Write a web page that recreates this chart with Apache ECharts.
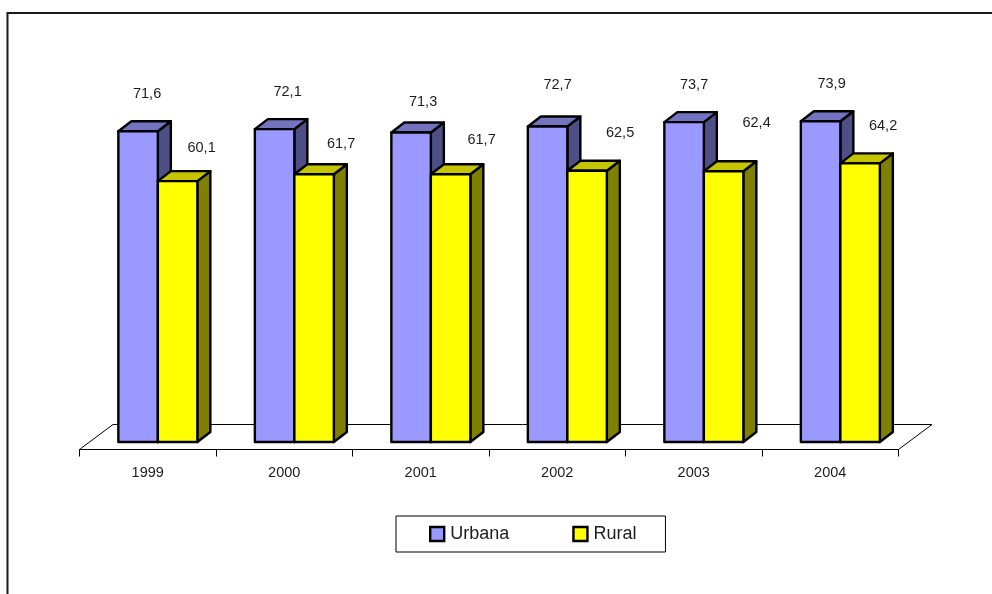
<!DOCTYPE html>
<html><head><meta charset="utf-8">
<style>html,body{margin:0;padding:0;background:#fff}#c{width:992px;height:594px}</style>
<script src="https://cdn.jsdelivr.net/npm/echarts@6/dist/echarts.min.js"></script>
</head><body><div id="c"></div>
<script>
var years = ['1999','2000','2001','2002','2003','2004'];
var urbana = [71.6,72.1,71.3,72.7,73.7,73.9];
var rural = [60.1,61.7,61.7,62.5,62.4,64.2];
// hand-placed label offsets (dx, dy from the bar's front-top centre)
var urbanaLabelDx = [9,13,12,10,10,11];
var urbanaLabelDy = [-37,-37,-31,-41,-37,-37];
var ruralLabelDx = [24,27,31,33,33,23];
var ruralLabelDy = [-33,-30,-34,-38,-48,-37];

var FONT = '"Liberation Sans",Arial,sans-serif';
var TEXT = '#1c1c1c';
var DX = 13, DY = -10, BAR = 39.5;
var chart = echarts.init(document.getElementById('c'), null, {renderer:'canvas'});

function bar(faces, shiftBars, ldx, ldy){
  return function(params, api){
    var i = api.value(0), v = api.value(1);
    var top = api.coord([i, v]), base = api.coord([i, 0]);
    var x0 = top[0] - 29.4 + shiftBars*BAR, x1 = x0 + BAR, y0 = top[1], y1 = base[1];
    var st = {stroke:'#000', lineWidth:2.4, lineJoin:'round'};
    function poly(pts, fill){
      return {type:'polygon', shape:{points:pts}, style:Object.assign({fill:fill}, st)};
    }
    return {type:'group', children:[
      poly([[x1,y0],[x1+DX,y0+DY],[x1+DX,y1+DY],[x1,y1]], faces[2]),
      poly([[x0,y0],[x0+DX,y0+DY],[x1+DX,y0+DY],[x1,y0]], faces[1]),
      poly([[x0,y0],[x1,y0],[x1,y1],[x0,y1]], faces[0]),
      {type:'text', style:{text:String(v).replace('.',','), x:(x0+x1)/2+ldx[params.dataIndex], y:y0+ldy[params.dataIndex],
        fill:TEXT, font:'14.5px '+FONT, align:'center', verticalAlign:'middle'}}
    ]};
  };
}
function floor(params, api){
  var b0 = api.coord([0,0]), b1 = api.coord([years.length-1,0]), w = api.size([1,0])[0];
  var l = b0[0]-w/2, r = b1[0]+w/2, yFront = b0[1]+7.5, yBack = yFront-25, d = 33.5;
  return {type:'polyline', shape:{points:[[l,yFront],[l+d,yBack],[r+d,yBack],[r,yFront]]},
    style:{fill:null, stroke:'#000', lineWidth:1}};
}
chart.setOption({
  animation:false,
  backgroundColor:'#fff',
  grid:{left:79.5, width:819, top:94.8, height:347.2},
  xAxis:{type:'category', data:years, offset:7.5,
    axisLine:{onZero:false,lineStyle:{color:'#000',width:1}},
    axisTick:{show:true,length:7,lineStyle:{color:'#000',width:1}},
    axisLabel:{color:TEXT,fontFamily:FONT,fontSize:14.5,margin:16}},
  yAxis:{type:'value',min:0,max:80,interval:20,show:false},
  legend:{show:true,left:396,top:516,orient:'horizontal',
    padding:[9,29,9,33],itemGap:63,itemWidth:14,itemHeight:14,
    backgroundColor:'#fff',borderColor:'#000',borderWidth:1,
    textStyle:{fontFamily:FONT,fontSize:18,color:TEXT,padding:[0,0,0,1]},
    data:[{name:'Urbana',icon:'rect',itemStyle:{color:'#9999FF',borderColor:'#000',borderWidth:2.4}},
          {name:'Rural',icon:'rect',itemStyle:{color:'#FFFF00',borderColor:'#000',borderWidth:2.4}}]},
  graphic:[{type:'polyline',silent:true,shape:{points:[[7.5,594],[7.5,13],[992,13]]},
    style:{fill:null,stroke:'#1a1a1a',lineWidth:2}}],
  series:[
    {type:'custom',name:'floor',data:[[0,0]],renderItem:floor,encode:{x:0,y:1},z:1,silent:true},
    {type:'custom',name:'Urbana',data:urbana.map(function(v,i){return [i,v];}),encode:{x:0,y:1},z:2,
      itemStyle:{color:'#9999FF'},
      renderItem:bar(['#9999FF','#7373BF','#4F4F88'],0,urbanaLabelDx,urbanaLabelDy)},
    {type:'custom',name:'Rural',data:rural.map(function(v,i){return [i,v];}),encode:{x:0,y:1},z:3,
      itemStyle:{color:'#FFFF00'},
      renderItem:bar(['#FFFF00','#C4C400','#808000'],1,ruralLabelDx,ruralLabelDy)}
  ]
});
</script></body></html>
